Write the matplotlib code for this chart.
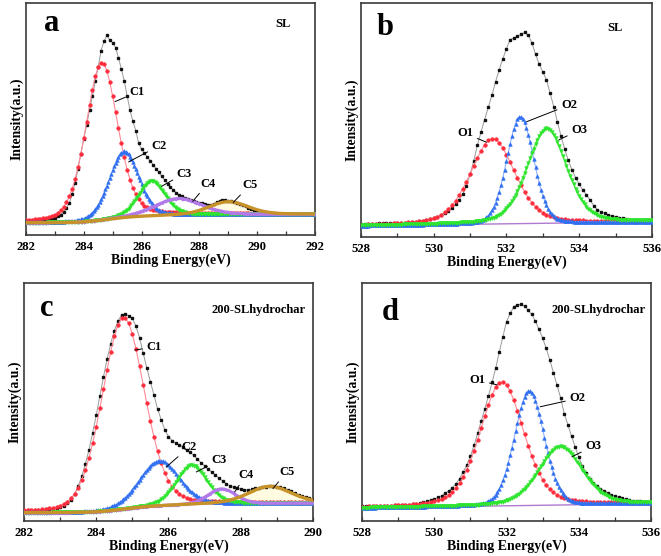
import numpy as np
import matplotlib
matplotlib.use("Agg")
import matplotlib.pyplot as plt
from matplotlib.ticker import MultipleLocator

plt.rcParams["font.family"] = ["Liberation Serif", "DejaVu Serif"]
plt.rcParams["font.weight"] = "bold"

# measured spectra, 0.1 eV steps (intensity in arbitrary units)
a_start = 282.0
a_counts = [5.8, 5.9, 5.9, 6.0, 6.1, 6.2, 6.4, 6.5, 6.7, 7.0,
            7.4, 8.0, 8.8, 10.0, 11.6, 13.8, 17.5, 22.5, 28.5, 35.0,
            41.5, 47.5, 53.8, 60.0, 66.3, 72.5, 79.5, 83.5, 86.0, 84.0,
            82.8, 80.8, 76.5, 71.5, 66.5, 60.0, 53.8, 49.0, 45.0, 39.5,
            37.0, 35.2, 33.6, 32.1, 30.3, 28.6, 27.0, 25.3, 23.6, 22.0,
            20.6, 19.4, 18.3, 17.4, 16.7, 16.1, 15.5, 15.0, 14.6, 14.3,
            14.0, 13.6, 13.3, 13.1, 13.0, 13.4, 14.2, 14.8, 15.2, 15.1,
            14.8, 14.5, 14.2, 13.8, 13.3, 12.8, 12.3, 11.8, 11.2, 10.7,
            10.3, 10.0, 9.8, 9.6, 9.5, 9.4, 9.3, 9.2, 9.2, 9.1,
            9.1, 9.1, 9.0, 9.0, 9.0, 9.0, 9.0, 9.0, 9.0, 9.0, 9.0]

b_start = 528.0
b_counts = [5.6, 5.6, 5.7, 5.6, 5.7, 5.8, 5.8, 5.9, 5.8, 5.9,
            6.0, 6.0, 6.1, 6.2, 6.3, 6.5, 6.7, 6.9, 7.2, 7.5,
            8.0, 8.6, 9.3, 10.2, 11.3, 12.6, 14.0, 16.0, 18.3, 22.0,
            26.8, 32.5, 39.2, 44.8, 50.2, 55.4, 60.6, 66.3, 71.5, 76.2,
            80.5, 84.4, 85.0, 85.8, 86.6, 87.4, 86.2, 83.0, 78.0, 74.0,
            70.5, 67.2, 61.5, 55.7, 49.2, 43.2, 37.6, 32.8, 28.8, 25.3,
            22.6, 20.0, 18.0, 15.8, 13.4, 11.6, 10.8, 10.1, 9.5, 9.0,
            8.7, 8.3, 8.0, 7.7, 7.4, 7.3, 7.1, 7.0, 6.9, 6.8, 6.7]

c_start = 282.0
c_counts = [4.4, 4.5, 4.5, 4.6, 4.6, 4.8, 4.9, 5.0, 5.2, 5.4,
            5.7, 6.3, 7.4, 9.0, 11.4, 14.6, 18.8, 24.0, 30.0, 37.0,
            44.5, 52.5, 60.5, 68.0, 74.5, 80.0, 84.0, 86.5, 87.0, 86.2,
            85.2, 81.8, 77.0, 70.5, 64.3, 58.5, 52.8, 47.0, 42.5, 38.2,
            35.5, 33.8, 32.8, 32.0, 31.2, 30.0, 28.8, 27.6, 26.0, 24.5,
            23.2, 21.8, 20.5, 19.2, 18.0, 16.8, 15.7, 14.8, 14.2, 13.8,
            13.4, 13.1, 13.0, 13.3, 13.7, 14.0, 14.3, 14.5, 14.6, 14.6,
            14.4, 14.1, 13.7, 13.2, 12.5, 11.8, 11.1, 10.5, 10.0, 9.6, 9.2]

d_start = 528.0
d_counts = [6.2, 6.2, 6.3, 6.3, 6.3, 6.4, 6.4, 6.5, 6.5, 6.6,
            6.6, 6.6, 6.7, 6.8, 7.0, 7.2, 7.4, 7.8, 8.3, 8.8,
            9.3, 9.9, 10.6, 11.6, 12.7, 14.0, 15.6, 17.8, 20.6, 23.6,
            27.2, 31.8, 36.8, 42.0, 47.2, 52.6, 58.2, 64.2, 71.0, 77.5,
            83.8, 87.2, 90.0, 90.9, 91.0, 90.4, 88.5, 86.8, 84.0, 80.5,
            76.8, 72.5, 67.6, 62.2, 57.0, 51.6, 45.0, 40.4, 35.6, 31.2,
            26.8, 23.0, 20.2, 17.8, 15.9, 14.6, 13.6, 12.8, 11.9, 11.1,
            10.5, 10.0, 9.5, 9.1, 8.8, 8.6, 8.4, 8.3, 8.2, 8.1, 8.0]

# fitted components: names, centre (eV), height, FWHM (eV), Lorentzian fraction
a_names = ["C1", "C2", "C3", "C4", "C5"]
a_center = [284.62, 285.39, 286.35, 287.27, 289.00]
a_height = [68.0, 28.5, 15.0, 7.2, 5.5]
a_fwhm = [1.30, 1.20, 1.10, 1.90, 1.60]
a_eta = [0.3, 0.2, 0.2, 0.2, 0.2]
a_base = (5.3, 9.0)

b_names = ["O1", "O2", "O3"]
b_center = [531.62, 532.38, 533.11]
b_height = [36.5, 45.7, 40.5]
b_fwhm = [1.44, 0.87, 1.28]
b_eta = [0.35, 0.15, 0.3]
b_base = (4.8, 6.5)

c_names = ["C1", "C2", "C3", "C4", "C5"]
c_center = [284.75, 285.74, 286.64, 287.47, 288.80]
c_height = [80.6, 19.0, 16.5, 6.3, 7.1]
c_fwhm = [1.38, 1.30, 1.00, 0.90, 1.40]
c_eta = [0.2, 0.2, 0.2, 0.2, 0.3]
c_base = (3.5, 7.6)

d_names = ["O1", "O2", "O3"]
d_center = [531.87, 532.63, 533.49]
d_height = [52.2, 48.1, 24.6]
d_fwhm = [1.42, 0.97, 1.43]
d_eta = [0.3, 0.15, 0.3]
d_base = (5.5, 7.3)

STYLES = [
    dict(marker="o", ms=2.6, mfc="#ff2d3c", mec="#ff2d3c", color="#ff8a98", lw=0.8, step=2),
    dict(marker="^", ms=2.6, mfc="#2f6ff0", mec="#2f6ff0", color="#8fb0ff", lw=0.8, step=1),
    dict(marker="v", ms=2.6, mfc="#2ee52e", mec="#2ee52e", color="#5cec5c", lw=1.2, step=1),
    dict(marker="D", ms=1.6, mfc="#b27ae8", mec="#b27ae8", color="#b27ae8", lw=2.0, step=1),
    dict(marker="None", ms=0, mfc="#c8922a", mec="#c8922a", color="#c8922a", lw=2.4, step=1),
]


def pseudo_voigt(x, c, h, w, eta):
    g = np.exp(-4 * np.log(2) * ((x - c) / w) ** 2)
    l = 1 / (1 + 4 * ((x - c) / w) ** 2)
    return h * ((1 - eta) * g + eta * l)


def draw_panel(ax, start, counts, names, center, height, fwhm, eta, base,
               shirley, xlim, letter, letter_pos, sample, sample_pos, labels):
    xd = start + 0.1 * np.arange(len(counts))
    ax.plot(xd, counts, color="#9a9a9a", lw=0.7, marker="s", ms=2.0,
            mfc="#111111", mec="#111111", zorder=2)

    x = np.arange(xlim[0], xlim[1] + 0.001, 0.05)
    peaks = [pseudo_voigt(x, *p) for p in zip(center, height, fwhm, eta)]
    if shirley:
        cum = np.cumsum(sum(peaks))
        bg = base[0] + (base[1] - base[0]) * cum / cum[-1]
    else:
        bg = base[0] + (base[1] - base[0]) * (x - x[0]) / (x[-1] - x[0])

    ax.plot(x, bg, color="#b07ad0", lw=1.0, zorder=3)
    if shirley:
        ax.fill_between(x, bg, bg + peaks[-1], color="#fffbe0", zorder=1, lw=0)
    for i, (pk, st) in enumerate(zip(peaks, STYLES)):
        s = st["step"]
        ax.plot(x[::s], (bg + pk)[::s], color=st["color"], lw=st["lw"],
                marker=st["marker"], ms=st["ms"], mfc=st["mfc"], mec=st["mec"],
                mew=0.4, zorder=4 + i)

    for name, (xy, xt) in zip(names, labels):
        ax.annotate(name, xy=xy, xytext=xt, fontsize=9, fontweight="bold",
                    ha="left", va="center", zorder=20,
                    arrowprops=dict(arrowstyle="-", color="k", lw=0.7,
                                    shrinkA=1, shrinkB=0))

    ax.text(*letter_pos, letter, transform=ax.transAxes, fontsize=22,
            fontweight="bold", ha="center", va="center")
    ax.text(*sample_pos, sample, transform=ax.transAxes, fontsize=9,
            fontweight="bold", ha="center", va="center")

    ax.set_xlim(*xlim)
    ax.set_ylim(0, 100)
    ax.set_yticks([])
    ax.xaxis.set_major_locator(MultipleLocator(2))
    ax.xaxis.set_minor_locator(MultipleLocator(1))
    ax.tick_params(axis="x", which="both", direction="in", labelsize=9.2,
                   length=3, width=0.9, pad=4, color="#333333")
    for lab in ax.get_xticklabels():
        lab.set_fontweight("bold")
    for sp in ax.spines.values():
        sp.set_color("#3a3a3a")
        sp.set_linewidth(1.2)
    ax.set_xlabel("Binding Energy(eV)", fontsize=10, fontweight="bold", labelpad=1)
    ax.set_ylabel("Intensity(a.u.)", fontsize=9.8, fontweight="bold", labelpad=2)


fig = plt.figure(figsize=(6.61, 5.56), dpi=100)
ax_a = fig.add_axes([0.0393, 0.5773, 0.4372, 0.4173])
ax_b = fig.add_axes([0.5461, 0.5737, 0.4402, 0.4209])
ax_c = fig.add_axes([0.0363, 0.0629, 0.4372, 0.4281])
ax_d = fig.add_axes([0.5477, 0.0629, 0.4372, 0.4281])

draw_panel(ax_a, a_start, a_counts, a_names, a_center, a_height, a_fwhm, a_eta,
           a_base, True, (282, 292), "a", (0.09, 0.91), "SL", (0.889, 0.91),
           [((285.08, 57.5), (285.58, 61.5)), ((285.55, 31.5), (286.35, 38.5)),
            ((286.69, 21.0), (287.22, 26.5)), ((287.77, 14.5), (288.02, 22.2)),
            ((289.17, 14.0), (289.48, 21.5))])
draw_panel(ax_b, b_start, b_counts, b_names, b_center, b_height, b_fwhm, b_eta,
           b_base, False, (528, 536), "b", (0.082, 0.895), "SL", (0.873, 0.895),
           [((531.45, 40.5), (530.65, 44.3)), ((532.56, 49.3), (533.5, 56.4)),
            ((533.44, 41.5), (533.78, 45.7))])
draw_panel(ax_c, c_start, c_counts, c_names, c_center, c_height, c_fwhm, c_eta,
           c_base, True, (282, 290), "c", (0.08, 0.893), "200-SLhydrochar", (0.81, 0.886),
           [((285.07, 71.8), (285.39, 73.2)), ((285.94, 22.7), (286.36, 31.1)),
            ((286.77, 20.6), (287.19, 25.5)), ((287.83, 12.2), (287.93, 19.2)),
            ((288.89, 13.6), (289.06, 20.6))])
draw_panel(ax_d, d_start, d_counts, d_names, d_center, d_height, d_fwhm, d_eta,
           d_base, False, (528, 536), "d", (0.097, 0.878), "200-SLhydrochar", (0.817, 0.887),
           [((531.74, 57.2), (530.97, 59.2)), ((532.93, 48.0), (533.74, 51.5)),
            ((533.81, 27.0), (534.18, 31.4))])

fig.savefig("out.png", dpi=100)
